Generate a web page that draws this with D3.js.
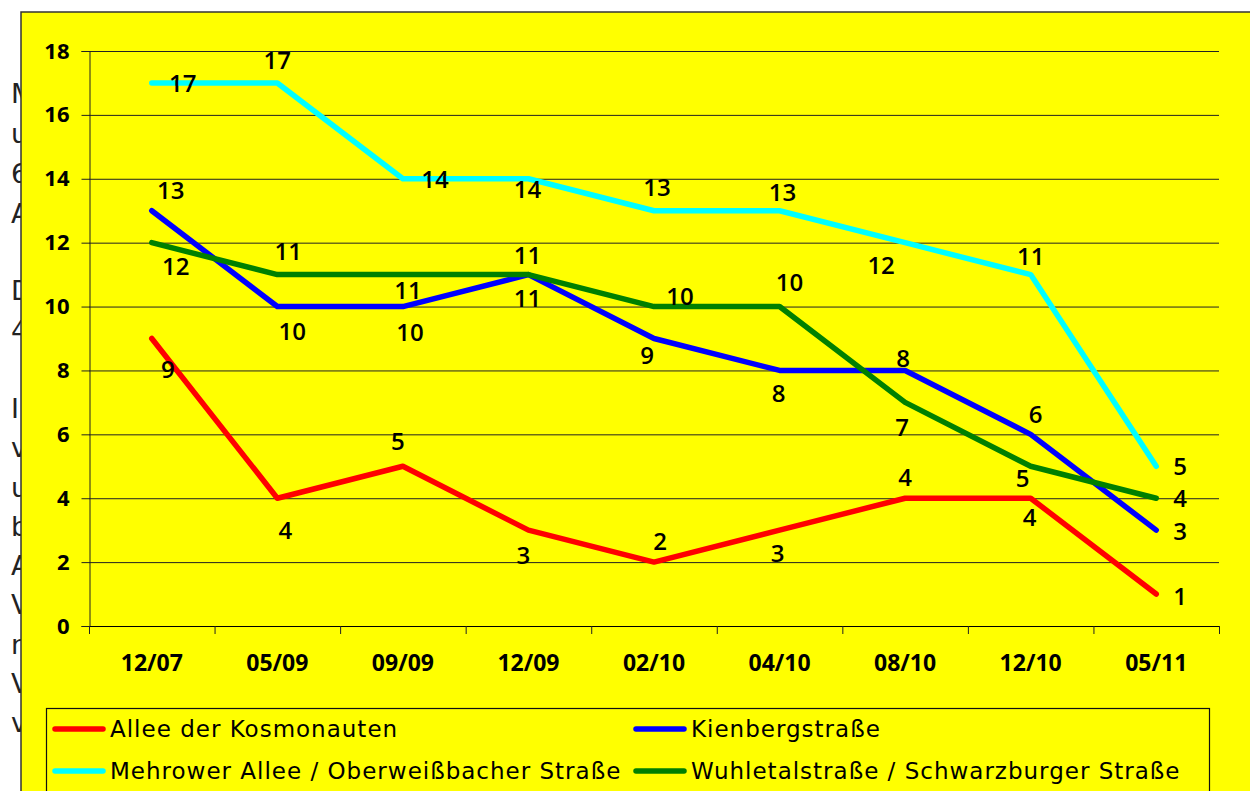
<!DOCTYPE html>
<html><head><meta charset="utf-8">
<script src="https://cdn.jsdelivr.net/npm/d3@7"></script>
<style>html,body{margin:0;padding:0;background:#fff;overflow:hidden}</style>
</head><body>
<svg id="c" width="1250" height="791"></svg>
<script>
// ---- data ----
const categories = ["12/07","05/09","09/09","12/09","02/10","04/10","08/10","12/10","05/11"];
const seriesNames = ["Allee der Kosmonauten","Kienbergstraße","Mehrower Allee / Oberweißbacher Straße","Wuhletalstraße / Schwarzburger Straße"];
const allee   = [9,4,5,3,2,3,4,4,1];
const kienberg= [13,10,10,11,9,8,8,6,3];
const mehrower= [17,17,14,14,13,13,12,11,5];
const wuhle   = [12,11,11,11,10,10,7,5,4];
const yTicks  = [0,2,4,6,8,10,12,14,16,18];
// letters of the partly hidden document text behind the chart
const hiddenLetters = ["M","u","6","A","D","4","I","v","u","b","A","V","n","V","v"];

// ---- label placement (pixel offsets from point) ----
const labelOffsets = {
  allee:    [[16,31],[8,32],[-5,-25],[-5,25],[6,-21],[-2,23],[0,-21],[-1,19],[24,2]],
  kienberg: [[19,-20],[15,25],[7,26],[-1,24],[-7,17],[-1,23],[-2,-12],[5,-20],[24,1]],
  mehrower: [[31,0],[0,-23],[32,1],[-1,11],[3,-23],[3,-18],[-24,23],[0,-18],[24,0]],
  wuhle:    [[24,24],[11,-23],[5,16],[-1,-19],[26,-10],[10,-24],[-3,25],[-8,12],[24,0]]
};
const colors = {allee:"#FF0000", kienberg:"#0000FF", mehrower:"#00FFFF", wuhle:"#008000"};

const svg = d3.select("#c");

// hidden text behind
const hiddenBaselines = [103,143,183,223,300,340,418,457,497,536,575,614,654,693,732];
svg.append("g").selectAll("text").data(hiddenLetters).join("text")
  .attr("x", 11).attr("y", (d,i)=>hiddenBaselines[i])
  .attr("font-family","DejaVu Sans").attr("font-size",27).attr("fill","#222")
  .text(d=>d);

// yellow chart area
svg.append("rect").attr("x",21).attr("y",12).attr("width",1240).attr("height",790)
  .attr("fill","#FFFF00").attr("stroke","#333").attr("stroke-width",1.5);

const x0 = 89, x1 = 1219, yTop = 51, yBot = 626;
const x = d3.scaleBand().domain(categories).range([x0,x1]).padding(0);
const y = d3.scaleLinear().domain([0,18]).range([yBot,yTop]);
const cx = c => x(c) + x.bandwidth()/2;

// gridlines
svg.append("g").selectAll("line").data(yTicks.filter(t=>t>0)).join("line")
  .attr("x1",x0).attr("x2",x1).attr("y1",d=>y(d)+0.5).attr("y2",d=>y(d)+0.5)
  .attr("stroke","#222").attr("stroke-width",1);

// y axis
const yAxis = svg.append("g").attr("transform",`translate(${x0+0.5},0)`)
  .call(d3.axisLeft(y).tickValues(yTicks).tickSize(8).tickPadding(12));
yAxis.select(".domain").attr("stroke","#222");
yAxis.selectAll(".tick line").attr("stroke","#222");
yAxis.selectAll("text").attr("font-family","Open Sans").attr("font-weight","bold")
  .attr("font-size",22).attr("fill","#000");

// x axis
const xAxis = svg.append("g").attr("transform",`translate(0,${yBot+0.5})`)
  .call(d3.axisBottom(x).tickSize(0).tickPadding(28));
xAxis.select(".domain").attr("stroke","#000").attr("d",`M${x0},0H${x1}`);
xAxis.selectAll("text").attr("font-family","Open Sans").attr("font-weight","bold")
  .attr("font-size",23).attr("fill","#000");
// boundary ticks
const bounds = categories.map(c=>x(c)).concat([x1]);
svg.append("g").selectAll("line").data(bounds).join("line")
  .attr("x1",d=>d+0.5).attr("x2",d=>d+0.5).attr("y1",yBot).attr("y2",yBot+8)
  .attr("stroke","#222");

// lines
const seriesList = [
  {key:"allee", vals:allee},
  {key:"kienberg", vals:kienberg},
  {key:"mehrower", vals:mehrower},
  {key:"wuhle", vals:wuhle}
];
const line = d3.line().x((d,i)=>cx(categories[i])).y(d=>y(d));
svg.append("g").selectAll("path").data(seriesList).join("path")
  .attr("d",s=>line(s.vals)).attr("fill","none")
  .attr("stroke",s=>colors[s.key]).attr("stroke-width",5.5)
  .attr("stroke-linejoin","round").attr("stroke-linecap","round");

// data labels
seriesList.forEach(s=>{
  svg.append("g").selectAll("text").data(s.vals).join("text")
    .attr("x",(d,i)=>cx(categories[i]) + labelOffsets[s.key][i][0])
    .attr("y",(d,i)=>y(d) + labelOffsets[s.key][i][1])
    .attr("dy","0.36em").attr("text-anchor","middle")
    .attr("font-family","Open Sans").attr("font-weight",600).attr("font-size",24).attr("fill","#000")
    .text(d=>d);
});

// legend
const lg = svg.append("g");
lg.append("rect").attr("x",46.5).attr("y",708.5).attr("width",1163).attr("height",100)
  .attr("fill","#FFFF00").attr("stroke","#111").attr("stroke-width",1.2);
const legendItems = [
  {key:"allee", name:seriesNames[0], col:0, row:0},
  {key:"kienberg", name:seriesNames[1], col:1, row:0},
  {key:"mehrower", name:seriesNames[2], col:0, row:1},
  {key:"wuhle", name:seriesNames[3], col:1, row:1}
];
const colX = [53, 634], rowY = [729, 771];
legendItems.forEach(it=>{
  const lx = colX[it.col], ly = rowY[it.row];
  lg.append("line").attr("x1",lx+2).attr("x2",lx+50).attr("y1",ly).attr("y2",ly)
    .attr("stroke",colors[it.key]).attr("stroke-width",5.5).attr("stroke-linecap","round");
  lg.append("text").attr("x",lx+57).attr("y",ly).attr("dy","0.36em")
    .attr("font-family","DejaVu Sans").attr("font-size",23).attr("letter-spacing",1)
    .attr("fill","#000")
    .text(it.name);
});
</script>
</body></html>
